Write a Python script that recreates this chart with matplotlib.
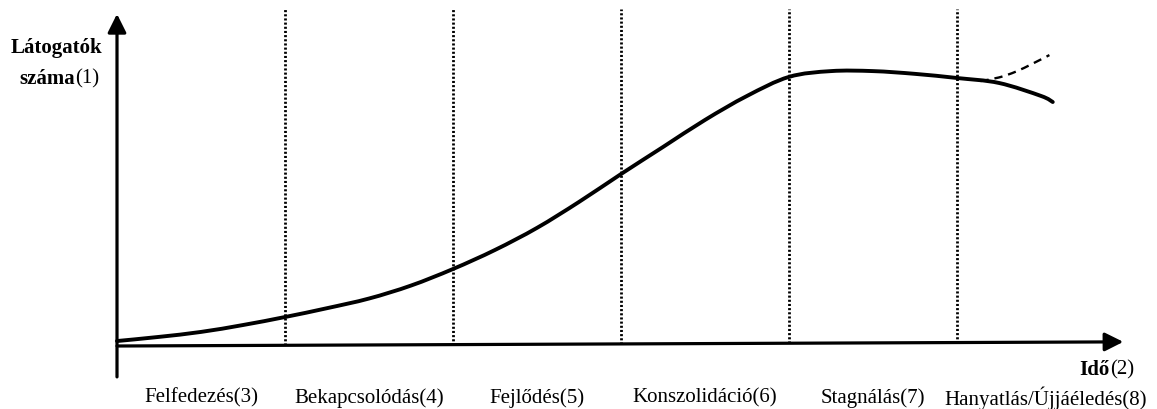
import numpy as np
import matplotlib
matplotlib.use("Agg")
import matplotlib.pyplot as plt
from matplotlib.path import Path
from matplotlib.patches import PathPatch

# stages (x axis, one unit per stage)
stages = ["Felfedezés(3)", "Bekapcsolódás(4)", "Fejlődés(5)",
          "Konszolidáció(6)", "Stagnálás(7)", "Hanyatlás/Újjáéledés(8)"]
stage_edges = [1, 2, 3, 4, 5]

# visitor curve (time in stage units, visitors 0..100)
t_main = [0, 0.25, 0.5, 0.75, 1, 1.25, 1.5, 1.75, 2, 2.25, 2.5, 2.75, 3,
          3.25, 3.5, 3.75, 4, 4.25, 4.5, 4.75, 5, 5.25, 5.5, 5.57]
v_main = [1.8, 3.3, 5.1, 7.6, 10.5, 13.7, 17.2, 21.9, 27.9, 34.8, 42.8, 52.2, 62.3,
          72.1, 81.9, 90.6, 97.5, 99.6, 99.6, 98.6, 97.1, 95.3, 90.6, 88.4]

# rejuvenation branch (dashed)
t_dash = [5.14, 5.25, 5.35, 5.45, 5.55]
v_dash = [96.0, 97.3, 99.4, 102.3, 105.4]


def smooth_path(xs, ys):
    # Catmull-Rom through the points, drawn as cubic Bezier segments
    p = np.column_stack([xs, ys]).astype(float)
    verts = [p[0]]
    codes = [Path.MOVETO]
    for i in range(len(p) - 1):
        p0 = p[i - 1] if i > 0 else p[i]
        p3 = p[i + 2] if i + 2 < len(p) else p[i + 1]
        c1 = p[i] + (p[i + 1] - p0) / 6
        c2 = p[i + 1] - (p3 - p[i]) / 6
        verts += [c1, c2, p[i + 1]]
        codes += [Path.CURVE4] * 3
    return Path(verts, codes)


W, H = 1157, 410
fig = plt.figure(figsize=(W / 100, H / 100), dpi=100)
ax = fig.add_axes([0, 0, 1, 1])
# pixel layout: t=0 at x=117, 168 px per stage; v=0 at y=347, 2.76 px per unit
ax.set_xlim(-117 / 168, (W - 117) / 168)
ax.set_ylim((347 - H) / 2.76, 347 / 2.76)
ax.axis("off")

serif = ["Liberation Serif", "DejaVu Serif"]

# dotted stage separators
for e in stage_edges:
    ax.plot([e, e], [0.25 * e, 122], color="black", lw=2.0,
            linestyle=(0, (0.75, 0.75)), zorder=1)

# axes with arrows
arrow = dict(arrowstyle="-|>,head_length=0.4,head_width=0.2", color="black",
             lw=2.3, mutation_scale=28, shrinkA=0, shrinkB=0)
ax.annotate("", xy=(0, 120.3), xytext=(0, -11.2), arrowprops=arrow)
ax.annotate("", xy=(5.99, 1.5), xytext=(0, 0), arrowprops=arrow)

# curves
ax.add_patch(PathPatch(smooth_path(t_main, v_main), fill=False, color="black",
                       lw=2.8, capstyle="round", joinstyle="round", zorder=3))
ax.add_patch(PathPatch(smooth_path(t_dash, v_dash), fill=False, color="black",
                       lw=1.7, linestyle=(0, (3.5, 2.5)), zorder=3))

# stage labels
for i, s in enumerate(stages):
    ax.text(i + 0.5 + (0.03 if i == 5 else 0), -18.5, s, ha="center",
            va="center", fontsize=15, family=serif)

# y axis title
ax.text(-0.363, 108.3, "Látogatók", ha="center", va="center", fontsize=15,
        family=serif, fontweight="bold")
ax.text(-0.25, 97.1, "száma", ha="right", va="center", fontsize=15,
        family=serif, fontweight="bold")
ax.text(-0.25, 97.1, "(1)", ha="left", va="center", fontsize=15, family=serif)

# x axis title
ax.text(5.91, -8.3, "Idő", ha="right", va="center", fontsize=15,
        family=serif, fontweight="bold")
ax.text(5.91, -8.3, "(2)", ha="left", va="center", fontsize=15, family=serif)

fig.savefig("out.png", dpi=100)
